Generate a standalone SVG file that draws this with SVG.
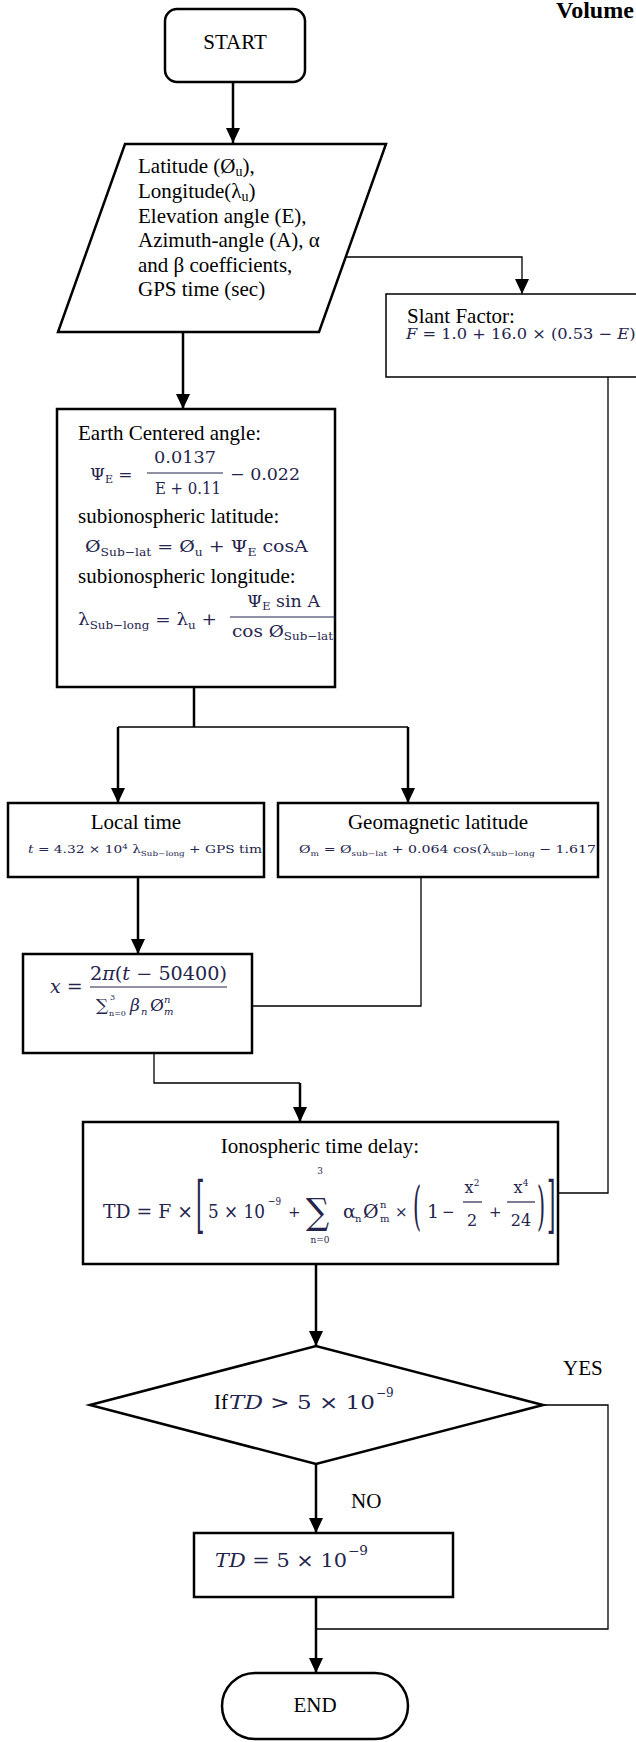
<svg xmlns="http://www.w3.org/2000/svg" width="636" height="1742" viewBox="0 0 636 1742">
<style>
.box{fill:#fff;stroke:#000;stroke-width:2.5}
.sbox{fill:#fff;stroke:#000;stroke-width:1.5}
.thin{fill:none;stroke:#000;stroke-width:1.3}
.thick{fill:none;stroke:#000;stroke-width:2.5}
.t{font-family:"Liberation Serif",serif;fill:#000;font-size:21px}
.m{font-family:"DejaVu Serif",serif;fill:#24244c}
.bar{stroke:#24244c;stroke-width:1.2}
.it{font-style:italic}
</style>
<defs>
<marker id="ah" markerUnits="userSpaceOnUse" markerWidth="15" markerHeight="14" refX="15" refY="7" orient="auto">
<path d="M0,0 L15,7 L0,14 z" fill="#000"/>
</marker>
</defs>
<rect width="636" height="1742" fill="#fff"/>
<text x="556" y="18" font-family="Liberation Serif,serif" font-weight="bold" font-size="24">Volume</text>

<g id="connectors">
<path class="thick" d="M233,82 V143" marker-end="url(#ah)"/>
<path class="thick" d="M183,332 V409" marker-end="url(#ah)"/>
<path class="thin" d="M346,257 H522 V294" marker-end="url(#ah)"/>
<path class="thick" d="M194,687 V727"/>
<path class="thin" d="M118,727 H408"/>
<path class="thick" d="M118,727 V803" marker-end="url(#ah)"/>
<path class="thick" d="M408,727 V803" marker-end="url(#ah)"/>
<path class="thick" d="M138,877 V954" marker-end="url(#ah)"/>
<path class="thin" d="M421,877 V1006 H252"/>
<path class="thin" d="M154,1053 V1083 H300"/>
<path class="thick" d="M300,1083 V1122" marker-end="url(#ah)"/>
<path class="thin" d="M608,377 V1193 H559"/>
<path class="thick" d="M316,1264 V1346" marker-end="url(#ah)"/>
<path class="thick" d="M316,1464 V1533" marker-end="url(#ah)"/>
<path class="thick" d="M316,1597 V1673" marker-end="url(#ah)"/>
<path class="thin" d="M543,1405 H608 V1629 H316"/>
</g>

<g id="start">
<rect class="box" x="165" y="9" width="140" height="73" rx="12"/>
<text class="t" x="235" y="49" text-anchor="middle">START</text>
</g>

<g id="input">
<polygon class="box" points="125,144 386,144 319,332 58,332"/>
<text class="t" x="138" y="173">Latitude (Ø<tspan font-size="14" dy="3">u</tspan><tspan dy="-3">),</tspan></text>
<text class="t" x="138" y="198">Longitude(λ<tspan font-size="14" dy="3">u</tspan><tspan dy="-3">)</tspan></text>
<text class="t" x="138" y="223">Elevation angle (E),</text>
<text class="t" x="138" y="247">Azimuth-angle (A), α</text>
<text class="t" x="138" y="272">and β coefficients,</text>
<text class="t" x="138" y="296">GPS time (sec)</text>
</g>

<g id="slant">
<rect class="sbox" x="386" y="294" width="280" height="83"/>
<text class="t" x="407" y="323">Slant Factor:</text>
<text class="m" x="406" y="339" font-size="15" textLength="236" lengthAdjust="spacingAndGlyphs"><tspan class="it">F</tspan> = 1.0 + 16.0 × (0.53 − <tspan class="it">E</tspan>)²</text>
</g>

<g id="earth">
<rect class="box" x="57" y="409" width="278" height="278"/>
<text class="t" x="78" y="440">Earth Centered angle:</text>
<text class="m" x="90" y="480" font-size="17">Ψ<tspan font-size="11" dy="3">E</tspan><tspan dy="-3"> =</tspan></text>
<text class="m" x="185" y="463" font-size="17" text-anchor="middle" textLength="62" lengthAdjust="spacingAndGlyphs">0.0137</text>
<line class="bar" x1="147" y1="473" x2="223" y2="473"/>
<text class="m" x="188" y="494" font-size="17" text-anchor="middle" textLength="66" lengthAdjust="spacingAndGlyphs">E + 0.11</text>
<text class="m" x="230" y="480" font-size="17" textLength="70" lengthAdjust="spacingAndGlyphs">− 0.022</text>
<text class="t" x="78" y="523">subionospheric latitude:</text>
<text class="m" x="85" y="552" font-size="17" textLength="223" lengthAdjust="spacingAndGlyphs">Ø<tspan font-size="11" dy="4">Sub−lat</tspan><tspan dy="-4"> = Ø</tspan><tspan font-size="11" dy="4">u</tspan><tspan dy="-4"> + Ψ</tspan><tspan font-size="11" dy="4">E</tspan><tspan dy="-4"> cosA</tspan></text>
<text class="t" x="78" y="583">subionospheric longitude:</text>
<text class="m" x="78" y="625" font-size="17" textLength="139" lengthAdjust="spacingAndGlyphs">λ<tspan font-size="11" dy="4">Sub−long</tspan><tspan dy="-4"> = λ</tspan><tspan font-size="11" dy="4">u</tspan><tspan dy="-4"> +</tspan></text>
<text class="m" x="247" y="607" font-size="17" textLength="73" lengthAdjust="spacingAndGlyphs">Ψ<tspan font-size="11" dy="3">E</tspan><tspan dy="-3"> sin A</tspan></text>
<line class="bar" x1="230" y1="617" x2="335" y2="617"/>
<text class="m" x="232" y="637" font-size="17" textLength="101" lengthAdjust="spacingAndGlyphs">cos Ø<tspan font-size="11" dy="3">Sub−lat</tspan></text>
</g>

<g id="localtime">
<rect class="box" x="8" y="803" width="256" height="74"/>
<text class="t" x="136" y="829" font-size="18.5" text-anchor="middle">Local time</text>
<text class="m" x="28" y="853" font-size="11" textLength="234" lengthAdjust="spacingAndGlyphs"><tspan class="it">t</tspan> = 4.32 × 10<tspan font-size="7" dy="-4">4</tspan><tspan dy="4"> λ</tspan><tspan font-size="7" dy="3">Sub−long</tspan><tspan dy="-3"> + GPS tim</tspan></text>
</g>

<g id="geomag">
<rect class="box" x="278" y="803" width="320" height="74"/>
<text class="t" x="438" y="829" font-size="18.5" text-anchor="middle">Geomagnetic latitude</text>
<text class="m" x="299" y="853" font-size="11" textLength="297" lengthAdjust="spacingAndGlyphs">Ø<tspan font-size="7" dy="3">m</tspan><tspan dy="-3"> = Ø</tspan><tspan font-size="7" dy="3">sub−lat</tspan><tspan dy="-3"> + 0.064 cos(λ</tspan><tspan font-size="7" dy="3">sub−long</tspan><tspan dy="-3"> − 1.617</tspan></text>
</g>

<g id="xcalc">
<rect class="box" x="23" y="954" width="229" height="99"/>
<text class="m" x="50" y="993" font-size="19"><tspan class="it">x</tspan> =</text>
<text class="m" x="90" y="980" font-size="18" textLength="137" lengthAdjust="spacingAndGlyphs">2<tspan class="it">π</tspan>(<tspan class="it">t</tspan> − 50400)</text>
<line class="bar" x1="90" y1="987" x2="227" y2="987"/>
<text class="m" x="96" y="1011" font-size="17">∑</text>
<text class="m" x="110" y="1000" font-size="8">3</text>
<text class="m" x="109" y="1016" font-size="8">n=0</text>
<text class="m it" x="130" y="1011" font-size="17">β</text>
<text class="m it" x="141" y="1015" font-size="10">n</text>
<text class="m" x="150" y="1011" font-size="17">Ø</text>
<text class="m it" x="164" y="1003" font-size="10">n</text>
<text class="m it" x="164" y="1015" font-size="10">m</text>
</g>

<g id="tdcalc">
<rect class="box" x="83" y="1122" width="475" height="142"/>
<text class="t" x="320" y="1153" text-anchor="middle">Ionospheric time delay:</text>
<text class="m" x="103" y="1218" font-size="19" textLength="90" lengthAdjust="spacingAndGlyphs">TD = F ×</text>
<text class="m" transform="translate(196,1226) scale(0.35,1)" font-size="62">[</text>
<text class="m" x="208" y="1218" font-size="19" textLength="57" lengthAdjust="spacingAndGlyphs">5 × 10</text>
<text class="m" x="268" y="1205" font-size="11" textLength="13" lengthAdjust="spacingAndGlyphs">−9</text>
<text class="m" x="288" y="1217" font-size="15">+</text>
<text class="m" transform="translate(306,1224) scale(0.9,1)" font-size="36">∑</text>
<text class="m" x="320" y="1174" font-size="9" text-anchor="middle">3</text>
<text class="m" x="320" y="1243" font-size="9" text-anchor="middle">n=0</text>
<text class="m" x="343" y="1218" font-size="19">α</text>
<text class="m" x="355" y="1222" font-size="10">n</text>
<text class="m" x="363" y="1218" font-size="19">Ø</text>
<text class="m" x="380" y="1208" font-size="10">n</text>
<text class="m" x="380" y="1222" font-size="10">m</text>
<text class="m" x="395" y="1217" font-size="15">×</text>
<text class="m" transform="translate(413,1224) scale(0.4,1)" font-size="52">(</text>
<text class="m" x="427" y="1218" font-size="19">1</text>
<text class="m" x="442" y="1217" font-size="15">−</text>
<text class="m" x="472" y="1193" font-size="16" text-anchor="middle">x<tspan font-size="9" dy="-7">2</tspan></text>
<line class="bar" x1="463" y1="1202" x2="482" y2="1202"/>
<text class="m" x="472" y="1226" font-size="16" text-anchor="middle">2</text>
<text class="m" x="489" y="1217" font-size="15">+</text>
<text class="m" x="521" y="1193" font-size="16" text-anchor="middle">x<tspan font-size="9" dy="-7">4</tspan></text>
<line class="bar" x1="507" y1="1202" x2="535" y2="1202"/>
<text class="m" x="521" y="1226" font-size="16" text-anchor="middle">24</text>
<text class="m" transform="translate(537,1224) scale(0.4,1)" font-size="52">)</text>
<text class="m" transform="translate(547,1226) scale(0.35,1)" font-size="62">]</text>
</g>

<g id="decision">
<polygon class="box" points="90,1405 316,1346 543,1405 316,1464"/>
<text class="t" x="214" y="1409">If</text>
<text class="m" x="229" y="1409" font-size="19" textLength="146" lengthAdjust="spacingAndGlyphs"><tspan class="it">TD</tspan> &gt; 5 × 10</text>
<text class="m" x="376" y="1397" font-size="12">−9</text>
</g>

<g id="labels">
<text class="t" x="563" y="1375" font-size="17">YES</text>
<text class="t" x="351" y="1508" font-size="17">NO</text>
</g>

<g id="tdmin">
<rect class="box" x="194" y="1533" width="259" height="64"/>
<text class="m" x="215" y="1567" font-size="19" textLength="132" lengthAdjust="spacingAndGlyphs"><tspan class="it">TD</tspan> = 5 × 10</text>
<text class="m" x="348" y="1555" font-size="12" textLength="20" lengthAdjust="spacingAndGlyphs">−9</text>
</g>

<g id="end">
<rect class="box" x="222" y="1673" width="186" height="66" rx="33"/>
<text class="t" x="315" y="1712" text-anchor="middle">END</text>
</g>
</svg>
